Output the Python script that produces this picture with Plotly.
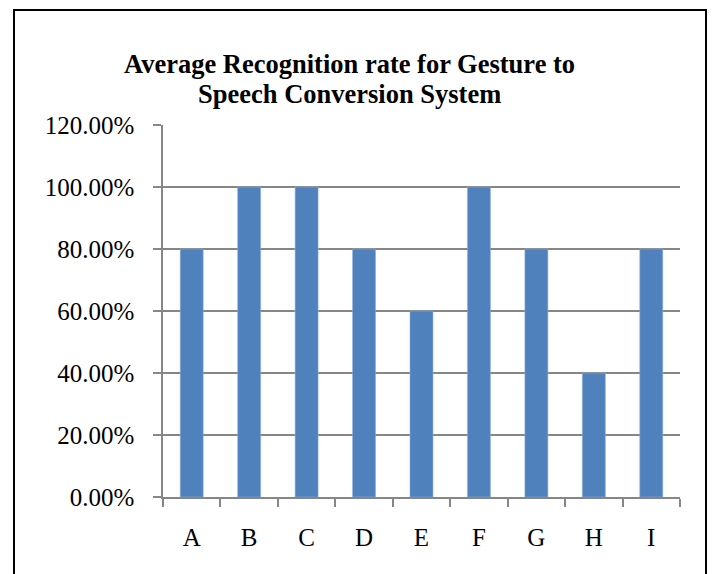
import plotly.graph_objects as go

categories = ["A", "B", "C", "D", "E", "F", "G", "H", "I"]
rates = [0.80, 1.00, 1.00, 0.80, 0.60, 1.00, 0.80, 0.40, 0.80]
y_ticks = [0, 0.2, 0.4, 0.6, 0.8, 1.0, 1.2]
y_tick_labels = ["0.00%", "20.00%", "40.00%", "60.00%", "80.00%", "100.00%", "120.00%"]
title_lines = ["Average Recognition rate for Gesture to", "Speech Conversion System"]

FONT = "Liberation Serif, Times New Roman, serif"
GRID = "#868686"

fig = go.Figure(go.Bar(
    x=categories, y=rates, width=0.4,
    marker=dict(color="#4F81BD", line=dict(color="#8FB0DC", width=0.6)),
))

fig.update_layout(
    width=713, height=574,
    margin=dict(l=163, r=33, t=125, b=77),
    paper_bgcolor="white", plot_bgcolor="white",
    showlegend=False,
    font=dict(family=FONT, color="black"),
    bargap=0.6,
)

# two-line title as annotations
for line, ypx in zip(title_lines, [64, 94]):
    fig.add_annotation(
        text=f"<b>{line}</b>", showarrow=False,
        xref="paper", yref="paper",
        x=(349 - 163) / 517, xanchor="center",
        y=(497 - ypx) / 372, yanchor="middle",
        font=dict(family=FONT, size=26.5, color="black"),
    )

fig.update_xaxes(
    type="category", tickson="boundaries",
    showline=True, linecolor=GRID, linewidth=1.5,
    ticks="outside", ticklen=8, tickcolor=GRID, tickwidth=1.5,
    showgrid=False, tickfont=dict(family=FONT, size=25, color="black"),
    ticklabelstandoff=17,
)
fig.update_yaxes(
    range=[0, 1.2], tickvals=y_ticks, ticktext=y_tick_labels,
    showline=True, linecolor=GRID, linewidth=1.5,
    ticks="outside", ticklen=8, tickcolor=GRID, tickwidth=1.5,
    showgrid=True, gridcolor=GRID, gridwidth=1.5, zeroline=False,
    tickfont=dict(family=FONT, size=25, color="black"),
    ticklabelstandoff=14,
)

# outer chart border
fig.add_shape(
    type="rect", xref="paper", yref="paper",
    x0=(14 - 163) / 517, x1=(706 - 163) / 517,
    y0=(497 - 590) / 372, y1=(497 - 10) / 372,
    line=dict(color="black", width=2), fillcolor="rgba(0,0,0,0)", layer="above",
)

fig.write_html("out.html", config={"displayModeBar": False},
               post_script="document.body.style.margin='0';")
